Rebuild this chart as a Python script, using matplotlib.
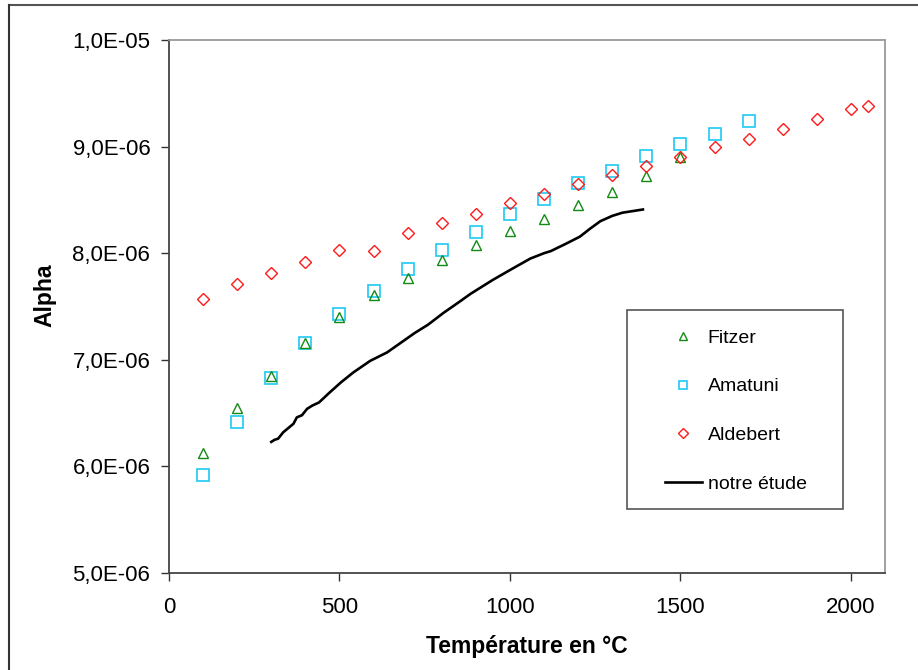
import matplotlib
matplotlib.use("Agg")
import matplotlib.pyplot as plt
from matplotlib.lines import Line2D
from matplotlib.patches import Rectangle

plt.rcParams['font.family'] = ['Liberation Sans', 'DejaVu Sans']

# ---- data ----
fitzer_T = [100, 200, 300, 400, 500, 600, 700, 800, 900, 1000, 1100, 1200, 1300, 1400, 1500]
fitzer = [6.13e-6, 6.55e-6, 6.85e-6, 7.16e-6, 7.40e-6, 7.61e-6, 7.77e-6, 7.94e-6, 8.08e-6,
          8.21e-6, 8.32e-6, 8.45e-6, 8.57e-6, 8.72e-6, 8.90e-6]

amatuni_T = [100, 200, 300, 400, 500, 600, 700, 800, 900, 1000, 1100, 1200, 1300, 1400, 1500, 1600, 1700]
amatuni = [5.92e-6, 6.42e-6, 6.83e-6, 7.16e-6, 7.43e-6, 7.65e-6, 7.85e-6, 8.03e-6, 8.20e-6,
           8.37e-6, 8.51e-6, 8.66e-6, 8.77e-6, 8.91e-6, 9.02e-6, 9.12e-6, 9.24e-6]

aldebert_T = [100, 200, 300, 400, 500, 600, 700, 800, 900, 1000, 1100, 1200, 1300, 1400,
              1500, 1600, 1700, 1800, 1900, 2000, 2050]
aldebert = [7.57e-6, 7.71e-6, 7.81e-6, 7.915e-6, 8.03e-6, 8.02e-6, 8.19e-6, 8.28e-6, 8.37e-6,
            8.47e-6, 8.555e-6, 8.645e-6, 8.73e-6, 8.815e-6, 8.905e-6, 9.0e-6, 9.075e-6,
            9.165e-6, 9.26e-6, 9.35e-6, 9.385e-6]

etude_T = [300, 310, 320, 335, 350, 365, 375, 390, 405, 420, 440, 470, 505, 540, 590, 640,
           680, 720, 760, 805, 850, 885, 950, 1010, 1060, 1100, 1120, 1165, 1205, 1235,
           1265, 1300, 1330, 1360, 1390]
etude = [6.23e-6, 6.25e-6, 6.26e-6, 6.32e-6, 6.36e-6, 6.40e-6, 6.46e-6, 6.48e-6, 6.54e-6,
         6.57e-6, 6.60e-6, 6.69e-6, 6.79e-6, 6.88e-6, 6.99e-6, 7.07e-6, 7.16e-6, 7.25e-6,
         7.33e-6, 7.44e-6, 7.54e-6, 7.62e-6, 7.75e-6, 7.86e-6, 7.95e-6, 8.00e-6, 8.02e-6,
         8.09e-6, 8.155e-6, 8.23e-6, 8.30e-6, 8.35e-6, 8.38e-6, 8.395e-6, 8.41e-6]

x_ticks = [0, 500, 1000, 1500, 2000]
y_ticks = [5e-6, 6e-6, 7e-6, 8e-6, 9e-6, 1e-5]
y_ticklabels = ["5,0E-06", "6,0E-06", "7,0E-06", "8,0E-06", "9,0E-06", "1,0E-05"]

# ---- figure ----
W, H = 918, 670
fig = plt.figure(figsize=(W / 100, H / 100), dpi=100)
ax = fig.add_axes([169 / W, 1 - 573 / H, (885 - 169) / W, (573 - 40) / H])

ax.plot(fitzer_T, fitzer, linestyle='none', marker='^', ms=7.2, mfc='none',
        mec='#138a13', mew=1.0, label='Fitzer', zorder=3)
ax.plot(amatuni_T, amatuni, linestyle='none', marker='s', ms=8.0, mfc='none',
        mec='#1ec8f5', mew=1.2, label='Amatuni', zorder=2)
ax.plot(aldebert_T, aldebert, linestyle='none', marker='D', ms=6.2, mfc='none',
        mec='#ff1a1a', mew=1.0, label='Aldebert', zorder=4)
ax.plot(etude_T, etude, color='black', lw=1.9, label='notre étude', zorder=5)

ax.set_xlim(0, 2100)
ax.set_ylim(5e-6, 1e-5)
ax.set_xticks(x_ticks)
ax.set_xticklabels([str(v) for v in x_ticks])
ax.set_yticks(y_ticks)
ax.set_yticklabels(y_ticklabels)
ax.tick_params(axis='both', direction='out', length=5.5, width=1.0, color='#333333',
               labelsize=16, labelcolor='black')
ax.tick_params(axis='x', pad=12)
ax.tick_params(axis='y', pad=8)

for side in ['left', 'bottom']:
    ax.spines[side].set_color('#444444')
    ax.spines[side].set_linewidth(1.3)
for side in ['top', 'right']:
    ax.spines[side].set_color('#9a9a9a')
    ax.spines[side].set_linewidth(1.3)

fig.text(527 / W, 1 - 646 / H, 'Température en °C', ha='center', va='center',
         fontsize=16.5, fontweight='bold')
fig.text(45 / W, 1 - 295 / H, 'Alpha', ha='center', va='center', rotation=90,
         fontsize=16.5, fontweight='bold')

# legend
leg = ax.legend(loc='upper left', bbox_to_anchor=(665 / W, 1 - 329 / H),
                bbox_transform=fig.transFigure, frameon=False, fontsize=14,
                borderpad=0, borderaxespad=0, handlelength=1.9, handletextpad=0.3,
                labelspacing=1.6, markerscale=0.8)
fig.add_artist(Rectangle((627 / W, 1 - 509 / H), (843 - 627) / W, (509 - 310) / H,
                         transform=fig.transFigure, facecolor='none',
                         edgecolor='#555555', lw=1.2))

# outer frame (top and left)
fig.add_artist(Line2D([9 / W, 1.0], [1 - 5 / H, 1 - 5 / H], transform=fig.transFigure,
                      color='#555555', lw=1.5))
fig.add_artist(Line2D([9 / W, 9 / W], [1 - 5 / H, 0.0], transform=fig.transFigure,
                      color='#333333', lw=1.5))

fig.savefig('out.png', dpi=100)
